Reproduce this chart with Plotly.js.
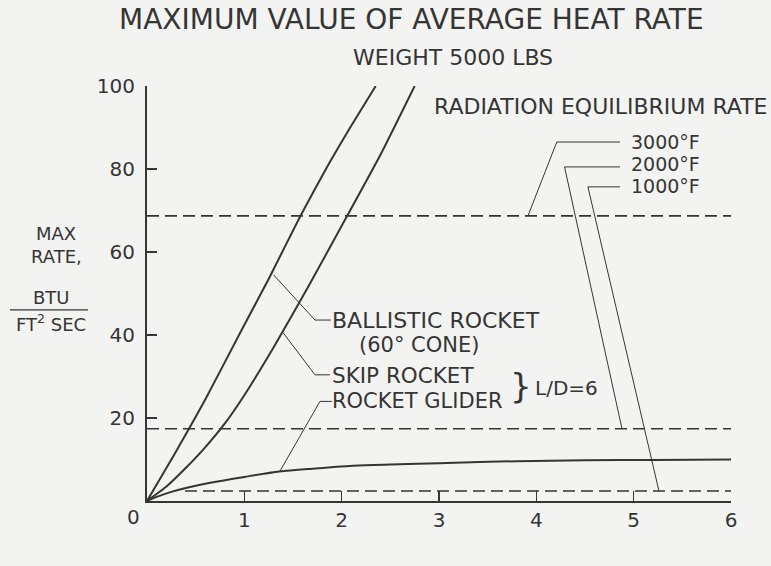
<!DOCTYPE html>
<html>
<head>
<meta charset="utf-8">
<script src="https://cdn.plot.ly/plotly-3.0.1.min.js"></script>
<style>
  html, body { margin: 0; padding: 0; background: #f3f3f1; }
  #chart { width: 771px; height: 566px; }
</style>
</head>
<body>
<div id="chart"></div>
<script>
// ---- data (range in thousands of nautical miles, rate in BTU/ft^2 sec) ----
const ballisticRange = [0, 0.3, 0.6, 0.956, 1.25, 1.572, 1.85, 2.1, 2.35];
const ballisticRate  = [0, 12, 24.5, 40.5, 53.5, 68.5, 80.5, 90.5, 100];

const skipRange = [0, 0.2, 0.4, 0.6, 0.8, 1.0, 1.3, 1.665, 2.04, 2.4, 2.75];
const skipRate  = [0, 3.5, 8.0, 13, 18.7, 25.5, 37, 52, 68, 83.5, 100];

const gliderRange = [0, 0.1, 0.25, 0.41, 0.65, 1.0, 1.36, 1.7, 2.12, 2.5, 3.0, 3.8, 4.5, 5.2, 6.0];
const gliderRate  = [0, 1.0, 2.2, 3.2, 4.4, 5.8, 7.1, 7.8, 8.5, 8.8, 9.1, 9.6, 9.8, 9.9, 10.0];

const radTemps  = ['3000°F', '2000°F', '1000°F'];
const radRates  = [68.7, 17.4, 2.4];
const radStart  = [0, 0, 0.39];
const radEnd    = [6, 6, 6];

const xTicks = [1, 2, 3, 4, 5, 6];
const xTickText = ['1', '2', '3', '4', '5', '6'];
const yTicks = [20, 40, 60, 80, 100];
const yTickText = ['20', '40', '60', '80', '100'];

// ---- styling ----
const INK = '#353535';
const FONT = 'DejaVu Sans, Liberation Sans, sans-serif';

const traces = [];
traces.push({x: ballisticRange, y: ballisticRate, mode: 'lines', line: {color: INK, width: 2, shape: 'spline', smoothing: 0.5}, hoverinfo: 'skip'});
traces.push({x: skipRange, y: skipRate, mode: 'lines', line: {color: INK, width: 2, shape: 'spline', smoothing: 0.5}, hoverinfo: 'skip'});
traces.push({x: gliderRange, y: gliderRate, mode: 'lines', line: {color: INK, width: 2, shape: 'spline', smoothing: 0.8}, hoverinfo: 'skip'});
radTemps.forEach((t, i) => {
  traces.push({x: [radStart[i], radEnd[i]], y: [radRates[i], radRates[i]], mode: 'lines',
    line: {color: INK, width: 1.6, dash: '12px,6px'}, hoverinfo: 'skip'});
});

// leader lines (layout decoration, in axis units)
const leaders = [
  [[1.30, 54.5], [1.726, 43.6], [1.89, 43.6]],
  [[1.40, 40.5], [1.726, 30.4], [1.88, 30.4]],
  [[1.366, 7.2], [1.777, 24.0], [1.90, 24.0]],
  [[3.914, 68.7], [4.21, 86.5], [4.86, 86.5]],
  [[4.88, 17.4], [4.29, 80.5], [4.86, 80.5]],
  [[5.26, 2.4], [4.53, 75.7], [4.86, 75.7]]
];
const shapes = leaders.map(pts => ({
  type: 'path', xref: 'x', yref: 'y',
  path: 'M' + pts.map(p => p[0] + ',' + p[1]).join(' L'),
  line: {color: INK, width: 1}
}));

function pann(text, x, y, size, xanchor, extra) {
  return Object.assign({text: text, x: x, y: y, xref: 'paper', yref: 'paper', showarrow: false,
    xanchor: xanchor || 'center', yanchor: 'middle', font: {family: FONT, size: size, color: INK}}, extra || {});
}

// pixel helpers for text placement outside plot
const L = 147, R = 731, T = 85.5, B = 501.5;
const px = v => (v - L) / (R - L);
const py = v => (B - v) / (B - T);

const annotations = [
  pann('MAXIMUM VALUE OF AVERAGE HEAT RATE', px(411), py(19), 28),
  pann('WEIGHT 5000 LBS', px(453), py(57), 22),
  pann('RADIATION EQUILIBRIUM RATE', px(600), py(106), 22),
  pann('3000°F', px(629), py(142), 19, 'left'),
  pann('2000°F', px(629), py(164), 19, 'left'),
  pann('1000°F', px(629), py(186), 19, 'left'),
  pann('BALLISTIC ROCKET', px(330), py(321), 22, 'left'),
  pann('(60° CONE)', px(357), py(345), 21, 'left'),
  pann('SKIP ROCKET', px(330), py(376), 21.5, 'left'),
  pann('ROCKET GLIDER', px(330), py(401), 21, 'left'),
  pann('}', px(508), py(386), 34, 'left'),
  pann('L/D=6', px(533), py(388), 20, 'left'),
  pann('0', px(133), py(518), 20),
  pann('MAX', px(56), py(233), 18),
  pann('RATE,', px(56), py(256), 18),
  pann('BTU', px(51), py(298), 18),
  pann('FT<sup>2</sup> SEC', px(51), py(323), 18)
];
shapes.push({type: 'line', xref: 'paper', yref: 'paper', x0: px(10), x1: px(88), y0: py(310), y1: py(310),
  line: {color: INK, width: 1.2}});

const layout = {
  width: 771, height: 566,
  margin: {l: L, r: 771 - R, t: T, b: 566 - B, pad: 0},
  paper_bgcolor: '#f3f3f1', plot_bgcolor: '#f3f3f1',
  showlegend: false,
  xaxis: {range: [0, 6], tickvals: xTicks, ticktext: xTickText, ticks: 'inside', ticklen: 10,
    tickwidth: 1.5, tickcolor: INK, showline: true, linecolor: INK, linewidth: 2, showgrid: false,
    zeroline: false, tickfont: {family: FONT, size: 20, color: INK}, ticklabelstandoff: 0, fixedrange: true},
  yaxis: {range: [0, 100], tickvals: yTicks, ticktext: yTickText, ticks: 'inside', ticklen: 10,
    tickwidth: 1.5, tickcolor: INK, showline: true, linecolor: INK, linewidth: 2, showgrid: false,
    zeroline: false, tickfont: {family: FONT, size: 20, color: INK}, ticklabelstandoff: 6, fixedrange: true},
  shapes: shapes,
  annotations: annotations
};

Plotly.newPlot('chart', traces, layout, {displayModeBar: false, staticPlot: true});
</script>
</body>
</html>
